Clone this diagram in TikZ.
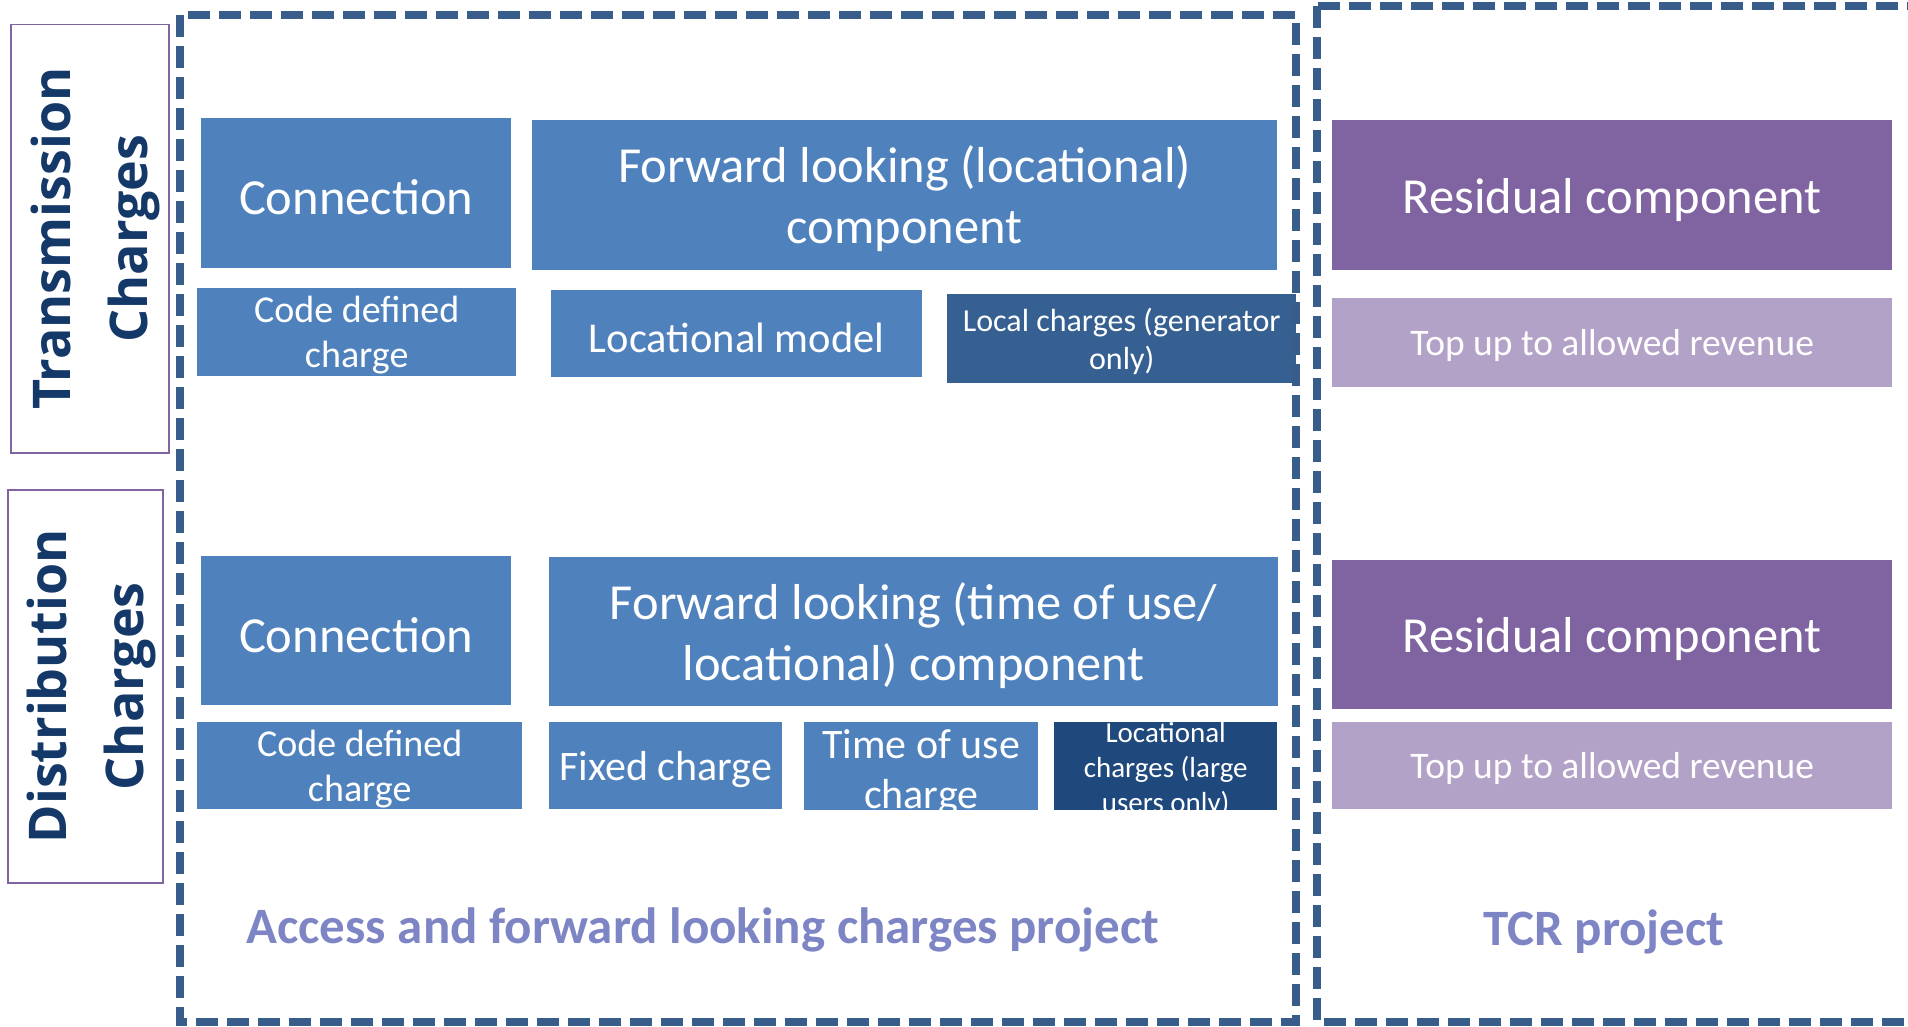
\documentclass[tikz,border=0pt]{standalone}
\usepackage{fontspec}
\setmainfont{Carlito}
\newfontfamily\sidefont{Open Sans}
\usetikzlibrary{positioning}
\definecolor{boxblue}{RGB}{79,129,189}
\definecolor{deepblue}{RGB}{54,96,146}
\definecolor{navyblue}{RGB}{31,73,125}
\definecolor{residual}{RGB}{128,100,162}
\definecolor{topup}{RGB}{179,162,199}
\definecolor{dashblue}{RGB}{56,93,138}
\definecolor{sidenavy}{RGB}{20,56,104}
\definecolor{projtext}{RGB}{126,133,197}
\newcommand{\bigtext}{\fontsize{50.5}{61}\selectfont}
\newcommand{\midtext}{\fontsize{38}{45}\selectfont}
\newcommand{\smalltext}{\fontsize{32}{38}\selectfont}
\newcommand{\padtop}{\rule{0pt}{0.87em}}
\tikzset{
  chargebox/.style={fill=boxblue, text=white, anchor=north west, inner sep=0pt, align=center,
    execute at begin node={\padtop}},
  boxsize/.style 2 args={minimum width=#1, minimum height=#2},
  sidebox/.style={draw=residual, line width=1.5pt, anchor=north west, inner sep=0pt},
  sidetext/.style={text=sidenavy, rotate=90, align=center, font=\sidefont\bfseries\fontsize{52}{77}\selectfont},
  projframe/.style={draw=dashblue, line width=7.5pt, dash pattern=on 22pt off 9pt},
  projtitle/.style={text=projtext, anchor=base, font=\bfseries\fontsize{51}{60}\selectfont}
}

\begin{document}
\begin{tikzpicture}[x=1pt,y=-1pt]
    \useasboundingbox (0,0) rectangle (1908,1027);
    % row labels
    \node[sidebox, boxsize={158pt}{428pt}] (translabel) at (10,24) {};
    \node[sidetext] (transtext) at ([xshift=6pt]translabel.center) {Transmission\\Charges};
    \node[sidebox, boxsize={155pt}{393pt}] (distlabel) at (7,489) {};
    \node[sidetext] (disttext) at ([xshift=6pt]distlabel.center) {Distribution\\Charges};

    % transmission charges
    \node[chargebox, boxsize={310pt}{150pt}, font=\bigtext] (connT) at (201,118) {Connection};
    \node[chargebox, boxsize={745pt}{150pt}, font=\bigtext] (fwdT) at (532,120) {\padtop Forward looking (locational)\\component};
    \node[chargebox, boxsize={319pt}{88pt}, font=\midtext] (codeT) at (197,288) {\padtop Code defined\\charge};
    \node[chargebox, boxsize={371pt}{87pt}, font=\fontsize{42.5}{50}\selectfont] (locmodel) at (551,290) {Locational model};
    \node[chargebox, fill=deepblue, boxsize={349pt}{89pt}, font=\smalltext] (localgen) at (947,294) {\padtop Local charges (generator\\only)};
    \node[chargebox, fill=residual, boxsize={560pt}{150pt}, font=\bigtext] (resT) at (1332,120) {Residual component};
    \node[chargebox, fill=topup, boxsize={560pt}{89pt}, font=\fontsize{37.5}{45}\selectfont] (topT) at (1332,298) {Top up to allowed revenue};

    % distribution charges
    \node[chargebox, boxsize={310pt}{149pt}, font=\bigtext] (connD) at (201,556) {Connection};
    \node[chargebox, boxsize={729pt}{149pt}, font=\bigtext] (fwdD) at (549,557) {\padtop Forward looking (time of use/\\locational) component};
    \node[chargebox, boxsize={325pt}{87pt}, font=\midtext] (codeD) at (197,722) {\padtop Code defined\\charge};
    \node[chargebox, boxsize={233pt}{87pt}, font=\fontsize{42}{50}\selectfont] (fixed) at (549,722) {Fixed charge};
    \begin{scope}
        \clip (804,722) rectangle (1038,809);
        \node[chargebox, boxsize={234pt}{87pt}, font=\fontsize{42}{50}\selectfont] (tou) at (804,722) {\padtop Time of use\\charge};
    \end{scope}
    \begin{scope}
        \clip (1054,722) rectangle (1277,809);
        \node[chargebox, fill=navyblue, boxsize={223pt}{87pt}, font=\fontsize{29}{35}\selectfont] (loclarge) at (1054,722) {Locational\\charges (large\\users only)};
    \end{scope}
    \node[chargebox, fill=residual, boxsize={560pt}{149pt}, font=\bigtext] (resD) at (1332,560) {Residual component};
    \node[chargebox, fill=topup, boxsize={560pt}{87pt}, font=\fontsize{37.5}{45}\selectfont] (topD) at (1332,722) {Top up to allowed revenue};

    % projects
    \draw[projframe] (180,15) rectangle (1296,1022);
    \draw[projframe] (1317,6) rectangle (1940,1022);
    \node[projtitle] (access) at (703,943) {Access and forward looking charges project};
    \node[projtitle] (tcr) at (1604,945) {TCR project};
\end{tikzpicture}
\end{document}
